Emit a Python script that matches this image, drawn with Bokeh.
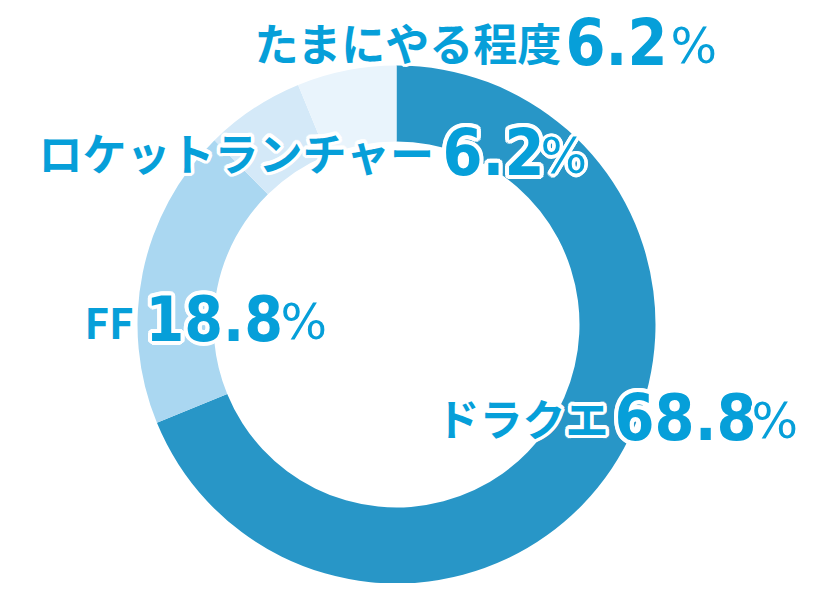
import numpy as np
from bokeh.plotting import figure
from bokeh.models import ColumnDataSource, Range1d
from bokeh.core.properties import value
from bokeh.embed import file_html
from bokeh.resources import INLINE

# ---- data ----
names = ["ドラクエ", "FF", "ロケットランチャー", "たまにやる程度"]
shares = [68.8, 18.8, 6.2, 6.2]
pct_text = ["68.8", "18.8", "6.2", "6.2"]
colors = ["#2896c7", "#aad7f1", "#d4e9f8", "#e9f4fc"]

# ---- layout (pixel coordinates within the figure) ----
W, H = 816, 583
def X(px):
    return px
def Y(py):
    return H - py

CX, CY = 396, 324
R_OUT, R_IN = 259, 183

# per label: name_x, num_x, pct_x, baseline, name_drop, name_size, num_size, pct_size
lay = [
    (436, 614, 751, 439, 3, 43, 64, 49),   # ドラクエ
    (84, 145, 280, 340, 0, 42, 62, 49),    # FF
    (38, 442, 540, 174, 3, 44, 64, 49),    # ロケットランチャー
    (254, 565, 670, 64, 3, 44, 64, 49),    # たまにやる程度
]
# measured vertical correction of the renderer (text drawn lower than requested)
NAME_SHIFT, NUM_SHIFT, PCT_SHIFT = 20, 23, 18

TEXT_COLOR = "#069fd9"
NAME_FONT = "Noto Sans CJK JP"
NUM_FONT = "'DejaVu Sans Condensed', 'DejaVu Sans'"
PCT_FONT = "DejaVu Sans"

p = figure(width=W, height=H, output_backend="svg", toolbar_location=None,
           title=None, x_range=Range1d(0, W), y_range=Range1d(0, H),
           min_border=0)
p.axis.visible = False
p.grid.visible = False
p.outline_line_color = None
p.background_fill_color = "white"
p.border_fill_color = "white"

vals = np.array(shares, dtype=float)
frac = vals / vals.sum()
cum = np.concatenate([[0.0], np.cumsum(frac)])
start = np.pi / 2 - 2 * np.pi * cum[1:]
end = np.pi / 2 - 2 * np.pi * cum[:-1]

src = ColumnDataSource(dict(start=start, end=end, color=colors,
                            x=[X(CX)] * len(vals), y=[Y(CY)] * len(vals)))
p.annular_wedge(x="x", y="y", inner_radius=R_IN, outer_radius=R_OUT,
                inner_radius_units="screen", outer_radius_units="screen",
                start_angle="start", end_angle="end", direction="anticlock",
                fill_color="color", line_color=None, source=src)

def halo_offsets(r, n=16):
    a = np.linspace(0, 2 * np.pi, n, endpoint=False)
    return list(r * np.cos(a)), list(r * np.sin(a))

def draw_piece(txt, px, base, size, font, style, halo_r):
    fs = f"{size}px"
    ox, oy = halo_offsets(halo_r)
    hs = ColumnDataSource(dict(x=[X(px)] * len(ox), y=[Y(base)] * len(ox),
                               t=[txt] * len(ox), ox=ox, oy=oy))
    p.text(x="x", y="y", text="t", x_offset="ox", y_offset="oy", source=hs,
           text_font=value(font), text_font_style=style, text_font_size=fs,
           text_line_height=1.0,
           text_color="white", text_align="left", text_baseline="alphabetic")
    p.text(x=[X(px)], y=[Y(base)], text=[txt],
           text_font=value(font), text_font_style=style, text_font_size=fs,
           text_line_height=1.0,
           text_color=TEXT_COLOR, text_align="left", text_baseline="alphabetic")

for i in range(len(names)):
    nx, numx, pctx, base, drop, ns, nums, ps = lay[i]
    draw_piece(names[i], nx, base - drop - NAME_SHIFT, ns, NAME_FONT, "bold", 3.5)
    draw_piece(pct_text[i], numx, base - NUM_SHIFT, nums, NUM_FONT, "bold", 4)
    draw_piece("%", pctx, base - PCT_SHIFT, ps, PCT_FONT, "normal", 3.5)

open("out.html", "w").write(file_html(p, INLINE))
